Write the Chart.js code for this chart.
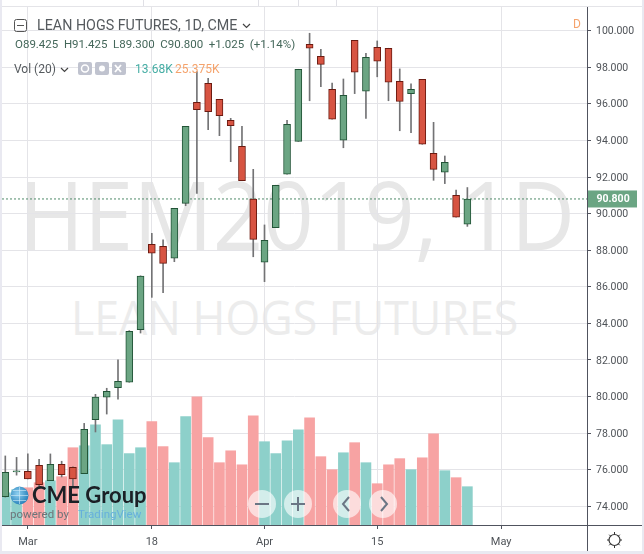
<!DOCTYPE html>
<html>
<head>
<meta charset="utf-8">
<title>Lean Hogs Futures</title>
<style>
  html, body { margin: 0; padding: 0; background: #e9e9f1; }
  #wrap { position: relative; width: 644px; height: 554px; overflow: hidden; font-family: Roboto, sans-serif; }
  #paper { position: absolute; left: 2px; top: 0; width: 640px; height: 551px; background: #fff; }
  #chart { position: absolute; left: 0; top: 0; }
  .t { position: absolute; white-space: nowrap; line-height: 1; }
  .mark { font-family: "Open Sans", sans-serif; color: #e7e7e7; transform-origin: left top; }
  .stub { position: absolute; top: 0; width: 1px; height: 6px; background: #e0e0e6; }
  .ind { position: absolute; top: 62px; width: 14px; height: 13px; background: #c0c3cf; border-radius: 2px; }
  .zoomBtn { position: absolute; top: 490px; width: 28px; height: 28px; border-radius: 50%; background: rgba(255,255,255,.62); }
  .zoomBtn svg, .ic { position: absolute; left: 0; top: 0; }
</style>
</head>
<body>
<div id="wrap">
  <div id="paper"></div>
  <div class="stub" style="left:143px"></div>
  <div class="stub" style="left:258px"></div>
  <div class="stub" style="left:298px"></div>
  <div class="stub" style="left:336px"></div>

  <div class="t mark" style="left:19px;top:165px;font-size:96px;transform:scaleX(.92)">HEM2019, 1D</div>
  <div class="t mark" style="left:71px;top:293px;font-size:48px;color:#ececec;transform:scaleX(.93)">LEAN HOGS FUTURES</div>

  <canvas id="chart" width="644" height="554"></canvas>

  <!-- legend rows -->
  <svg class="ic" style="left:14px;top:19px" width="14" height="14"><rect x=".5" y=".5" width="12" height="12" rx="2" fill="none" stroke="#555"/><path d="M3 6.5h7" stroke="#555"/></svg>
  <div class="t" style="left:37px;top:18px;font-size:14.3px;color:#555a5e">LEAN HOGS FUTURES, 1D, CME</div>
  <svg class="ic" style="left:242px;top:23px" width="9" height="6"><path d="M1 1l3.5 3.5L8 1" fill="none" stroke="#444" stroke-width="1.2"/></svg>
  <div class="t" style="left:15px;top:39px;font-size:11.5px;color:#44675a;word-spacing:2.8px">O89.425 H91.425 L89.300 C90.800 +1.025 (+1.14%)</div>
  <div class="t" style="left:14px;top:63px;font-size:12px;color:#555a5e">Vol (20)</div>
  <svg class="ic" style="left:60px;top:67px" width="9" height="6"><path d="M1 1l3.5 3.5L8 1" fill="none" stroke="#444" stroke-width="1.2"/></svg>
  <div class="ind" style="left:78px"></div>
  <div class="ind" style="left:95px"></div>
  <div class="ind" style="left:112px"></div>
  <svg class="ic" style="left:78px;top:62px" width="48" height="13"><circle cx="7" cy="6.5" r="3.5" fill="none" stroke="#fff" stroke-width="1.5"/><circle cx="24" cy="6.5" r="3" fill="#fff"/><path d="M37 3l6 7M43 3l-6 7" stroke="#fff" stroke-width="1.8"/></svg>
  <div class="t" style="left:135px;top:63px;font-size:12px;color:#45ada4">13.68K</div>
  <div class="t" style="left:175px;top:63px;font-size:12px;color:#f5a36c">25.375K</div>
  <div class="t" style="left:573px;top:18px;font-size:12px;color:#f5a36c">D</div>

  <!-- logo -->
  <svg class="ic" style="left:10px;top:486px" width="19" height="19">
    <defs><radialGradient id="globe" cx=".4" cy=".4" r=".7"><stop offset="0" stop-color="#8fd0f0"/><stop offset="1" stop-color="#1b78b5"/></radialGradient></defs>
    <circle cx="9.5" cy="9.5" r="9" fill="url(#globe)"/>
    <path d="M1 9.5h17M9.5 1v17M3 4.5h13M3 14.5h13" stroke="#d5eefa" stroke-width=".6" fill="none"/>
  </svg>
  <div class="t" style="left:32px;top:484px;font-size:22px;font-weight:700;font-family:Lato,sans-serif;color:#1b2026">CME Group</div>
  <div class="t" style="left:10px;top:509px;font-size:11.5px;color:#6d7378">powered by</div>
  <div class="t" style="left:78px;top:509px;font-size:11.5px;color:#66b0dc">TradingView</div>

  <!-- zoom and scroll buttons -->
  <div class="zoomBtn" style="left:248px"><svg width="28" height="28"><path d="M7 14h14" stroke="#6b7685" stroke-width="2"/></svg></div>
  <div class="zoomBtn" style="left:284px"><svg width="28" height="28"><path d="M7 14h14M14 7v14" stroke="#6b7685" stroke-width="2"/></svg></div>
  <div class="zoomBtn" style="left:333px"><svg width="28" height="28"><path d="M16 7l-6 7 6 7" fill="none" stroke="#6b7685" stroke-width="2"/></svg></div>
  <div class="zoomBtn" style="left:369px"><svg width="28" height="28"><path d="M12 7l6 7-6 7" fill="none" stroke="#6b7685" stroke-width="2"/></svg></div>

  <!-- settings icon -->
  <svg class="ic" style="left:606px;top:531px" width="17" height="18"><circle cx="8.5" cy="9" r="5.5" fill="none" stroke="#333" stroke-width="1.2"/><path d="M8.5 1v2.5M8.5 14.5V17M1 9h2M14 9h2M3.2 3.7l1.5 1.5M12.3 12.8l1.5 1.5M13.8 3.7l-1.5 1.5M4.7 12.8l-1.5 1.5" stroke="#333" stroke-width="1"/></svg>
</div>

<script src="https://cdn.jsdelivr.net/npm/chart.js@4/dist/chart.umd.min.js"></script>
<script>
// ======= DATA =======
const opens = [74.52, 75.88, 75.91, 76.24, 75.40, 76.29, 76.13, 75.78, 78.73, 79.96, 80.48, 80.78, 83.65, 88.32,
  88.21, 87.56, 90.56, 96.09, 97.12, 96.25, 95.10, 93.68, 90.80, 87.34, 89.23, 92.15, 93.95, 99.26, 98.60, 96.80,
  94.01, 99.47, 96.69, 99.09, 99.04, 97.23, 96.56, 97.34, 93.30, 92.26, 91.00, 89.425];
const highs = [76.75, 76.67, 76.86, 76.57, 76.86, 76.46, 76.15, 78.53, 80.12, 80.45, 82.00, 83.60, 86.60, 88.92,
  88.56, 90.29, 94.77, 97.76, 97.40, 96.25, 95.21, 94.77, 92.42, 89.38, 91.55, 95.10, 97.89, 99.86, 98.98, 97.14,
  97.36, 99.47, 98.76, 99.44, 99.04, 97.91, 97.09, 97.34, 94.99, 93.15, 91.29, 91.425];
const lows = [74.50, 75.70, 75.50, 75.00, 75.40, 75.60, 75.07, 75.78, 78.06, 79.04, 79.86, 80.78, 83.47, 85.42,
  85.68, 87.37, 90.43, 91.11, 94.59, 94.26, 92.84, 91.80, 87.64, 86.28, 89.23, 92.15, 93.95, 96.17, 96.94, 95.16,
  93.60, 96.56, 95.21, 97.48, 96.17, 94.53, 94.42, 93.79, 91.82, 91.64, 89.80, 89.30];
const closes = [75.85, 75.93, 75.50, 75.18, 76.29, 75.72, 75.50, 78.21, 79.97, 80.28, 80.83, 83.56, 86.59, 87.83,
  87.28, 90.29, 94.77, 95.68, 95.57, 95.35, 94.81, 91.80, 88.59, 88.54, 91.55, 94.88, 97.89, 99.04, 98.16, 95.16,
  96.47, 97.73, 98.55, 98.33, 97.18, 96.14, 96.80, 93.79, 92.42, 92.80, 89.80, 90.80];
const volumes = [11.5, 12.6, 13.3, 15.1, 15.8, 17.25, 27.6, 28.3, 35.8, 28.7, 37.6, 25.5, 27.6, 36.9, 28.0, 22.25,
  38.7, 45.8, 31.2, 22.25, 26.5, 21.5, 39.0, 29.75, 25.5, 30.1, 34.0, 38.3, 24.4, 19.75, 25.8, 29.4, 22.25, 14.75,
  21.5, 23.7, 19.75, 24.0, 32.6, 19.4, 16.9, 13.68];
const priceTicks = [74, 76, 78, 80, 82, 84, 86, 88, 90, 92, 94, 96, 98, 100];
const dateTicks = [2, 13, 23, 33, 44];
const dateLabels = ['Mar', '18', 'Apr', '15', 'May'];
const lastPrice = 90.8;

// ======= COLOURS =======
const upBody = '#6ba583', downBody = '#d75442';
const upLine = '#225437', downLine = '#6b1a10';
const wickColor = '#737375';
const upVol = '#8dd0ca', downVol = '#f7a3a3';
const axisColor = '#50535e', gridColor = '#e4e4e8', textColor = '#4f5358';

const isUp = i => closes[i] >= opens[i];
const pick = (a, b) => opens.map((o, i) => isUp(i) ? a : b);

// ======= DATASETS =======
const volumeSet = {
  type: 'bar', yAxisID: 'vol', order: 4, barThickness: 10,
  data: volumes.map((v, i) => ({ x: i, y: v })),
  backgroundColor: pick(upVol, downVol)
};
const wickSet = {
  type: 'bar', yAxisID: 'y', order: 3, barThickness: 1,
  data: highs.map((h, i) => ({ x: i, y: [lows[i], h] })),
  backgroundColor: wickColor
};
const bodySet = {
  type: 'bar', yAxisID: 'y', order: 1, barThickness: 7, borderWidth: 1, borderSkipped: false,
  data: opens.map((o, i) => ({ x: i, y: [o, closes[i]] })),
  backgroundColor: pick(upBody, downBody),
  borderColor: pick(upLine, downLine)
};

const xMin = -0.293, xMax = 51.615;
const priceSet = {
  type: 'line', yAxisID: 'y', order: 2,
  data: [{ x: xMin, y: lastPrice }, { x: xMax, y: lastPrice }],
  borderColor: '#4f8a6a', borderWidth: 1, borderDash: [2, 2], pointRadius: 0
};

// ======= EXTRA AXIS BITS AND PRICE TAG =======
const framePlugin = {
  id: 'frame',
  afterDraw(chart) {
    const { ctx, chartArea, scales } = chart;
    ctx.save();
    ctx.strokeStyle = axisColor;
    ctx.lineWidth = 1;
    ctx.beginPath();
    ctx.moveTo(chartArea.right + 0.5, chartArea.top);
    ctx.lineTo(chartArea.right + 0.5, 551);
    ctx.moveTo(chartArea.left, chartArea.bottom + 0.5);
    ctx.lineTo(642, chartArea.bottom + 0.5);
    ctx.stroke();
    ctx.strokeStyle = gridColor;
    ctx.beginPath();
    ctx.moveTo(chartArea.left, chartArea.top - 0.5);
    ctx.lineTo(642, chartArea.top - 0.5);
    ctx.stroke();
    const yp = scales.y.getPixelForValue(lastPrice);
    ctx.fillStyle = upBody;
    ctx.fillRect(chartArea.right + 1, yp - 8.5, 49, 17);
    ctx.fillStyle = '#fff';
    ctx.font = '700 10.5px Roboto';
    ctx.textBaseline = 'middle';
    ctx.fillText(lastPrice.toFixed(3), chartArea.right + 9.5, yp + 0.5);
    ctx.restore();
  }
};

// no label overhang, so the plot keeps its exact box
const noOverhang = s => {
  s.paddingTop = 0; s.paddingBottom = 0; s.paddingLeft = 0; s.paddingRight = 0;
};

// ======= CHART =======
new Chart(document.getElementById('chart'), {
  data: { datasets: [volumeSet, wickSet, priceSet, bodySet] },
  plugins: [framePlugin],
  options: {
    responsive: false,
    animation: false,
    layout: { padding: { left: 2, top: 7, right: 0, bottom: 3 } },
    datasets: { bar: { grouped: false } },
    plugins: { legend: { display: false }, tooltip: { enabled: false } },
    scales: {
      x: {
        type: 'linear', min: xMin, max: xMax, offset: false,
        afterBuildTicks: s => { s.ticks = dateTicks.map(v => ({ value: v })); },
        afterFit: s => { s.height = 26; noOverhang(s); },
        ticks: {
          autoSkip: false, maxRotation: 0, padding: 7, color: textColor,
          font: { family: 'Roboto', size: 11 },
          callback: v => dateLabels[dateTicks.indexOf(v)]
        },
        grid: { offset: false, color: gridColor, tickColor: axisColor, tickLength: 4 },
        border: { color: axisColor }
      },
      y: {
        position: 'right', min: 72.974, max: 101.296,
        afterBuildTicks: s => { s.ticks = priceTicks.map(v => ({ value: v })); },
        afterFit: s => { s.width = 57; noOverhang(s); },
        ticks: {
          autoSkip: false, padding: 5, labelOffset: 1, color: textColor,
          font: { family: 'Roboto', size: 10.5 },
          callback: v => v.toFixed(3)
        },
        grid: { color: gridColor, tickColor: axisColor, tickLength: 4 },
        border: { color: axisColor }
      },
      vol: { display: false, min: 0, max: 185 }
    }
  }
});
</script>
</body>
</html>
